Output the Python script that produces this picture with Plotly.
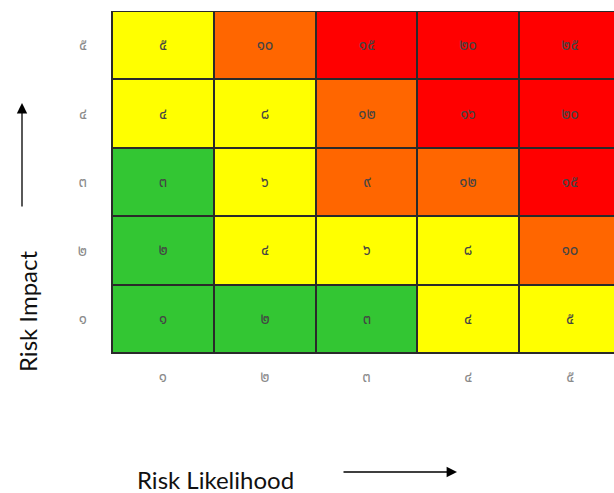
import plotly.graph_objects as go

# ---- data ----
likelihood = [1, 2, 3, 4, 5]
impact = [1, 2, 3, 4, 5]
tick_labels = ["๑", "๒", "๓", "๔", "๕"]
scores = [
    [1, 2, 3, 4, 5],
    [2, 4, 6, 8, 10],
    [3, 6, 9, 12, 15],
    [4, 8, 12, 16, 20],
    [5, 10, 15, 20, 25],
]  # rows = impact 1..5, columns = likelihood 1..5
band_upper = [3, 8, 12, 25]          # score limits of each colour band
band_colors = ["#33c633", "#ffff00", "#ff6600", "#ff0000"]

thai_digits = str.maketrans("0123456789", "๐๑๒๓๔๕๖๗๘๙")
text = [[str(v).translate(thai_digits) for v in row] for row in scores]

def band(v):
    for i, u in enumerate(band_upper):
        if v <= u:
            return i
    return len(band_upper) - 1

levels = [[band(v) for v in row] for row in scores]
n = len(band_colors)
colorscale = []
for i, c in enumerate(band_colors):
    colorscale.append([i / n, c])
    colorscale.append([(i + 1) / n, c])

FONT = "Noto Sans Thai, Noto Sans, DejaVu Sans, sans-serif"
TITLE_FONT = "Lato, Open Sans, sans-serif"

fig = go.Figure(go.Heatmap(
    x=likelihood, y=impact, z=levels, text=text,
    texttemplate="%{text}",
    textfont=dict(family=FONT, size=15, color="#444444"),
    colorscale=colorscale, zmin=-0.5, zmax=n - 0.5,
    showscale=False, xgap=2, ygap=2, hoverinfo="skip",
))

W, H = 614, 493
L, R, T, B = 112, 0, 11, 140
pw, ph = W - L - R, H - T - B

def px(x):
    return (x - L) / pw

def py(y):
    return (H - B - y) / ph

fig.update_layout(
    width=W, height=H,
    margin=dict(l=L, r=R, t=T, b=B),
    paper_bgcolor="white", plot_bgcolor="#2a2a2a",
    font=dict(family=FONT),
    xaxis=dict(range=[0.5, 5.43], tickmode="array", tickvals=likelihood,
               ticktext=tick_labels, showgrid=False, zeroline=False,
               ticks="outside", ticklen=10, tickcolor="rgba(0,0,0,0)",
               tickfont=dict(size=15, color="#8a8a8a", family=FONT),
               showline=True, linecolor="#2a2a2a", linewidth=1),
    yaxis=dict(range=[0.5, 5.5], tickmode="array", tickvals=impact,
               ticktext=tick_labels, showgrid=False, zeroline=False,
               ticks="outside", ticklen=21, tickcolor="rgba(0,0,0,0)",
               tickfont=dict(size=15, color="#8a8a8a", family=FONT),
               showline=True, linecolor="#2a2a2a", linewidth=1, mirror=True),
    annotations=[
        dict(text="Risk Likelihood", xref="paper", yref="paper",
             x=px(215), y=py(479), xanchor="center", yanchor="middle",
             showarrow=False,
             font=dict(family=TITLE_FONT, size=24, color="#111")),
        dict(text="Risk Impact", xref="paper", yref="paper", textangle=-90,
             x=px(27), y=py(312), xanchor="center", yanchor="middle",
             showarrow=False,
             font=dict(family=TITLE_FONT, size=24, color="#111")),
        dict(text="", xref="paper", yref="paper", x=px(457), y=py(472),
             ax=-115, ay=0, showarrow=True, arrowhead=2, arrowsize=1.6,
             arrowwidth=1.3, arrowcolor="#000"),
        dict(text="", xref="paper", yref="paper", x=px(22), y=py(103),
             ax=0, ay=105, showarrow=True, arrowhead=2, arrowsize=1.6,
             arrowwidth=1.3, arrowcolor="#000"),
    ],
)

fig.write_html("out.html", config={"displayModeBar": False},
               post_script="document.body.style.margin='0';document.body.style.overflow='hidden';")
